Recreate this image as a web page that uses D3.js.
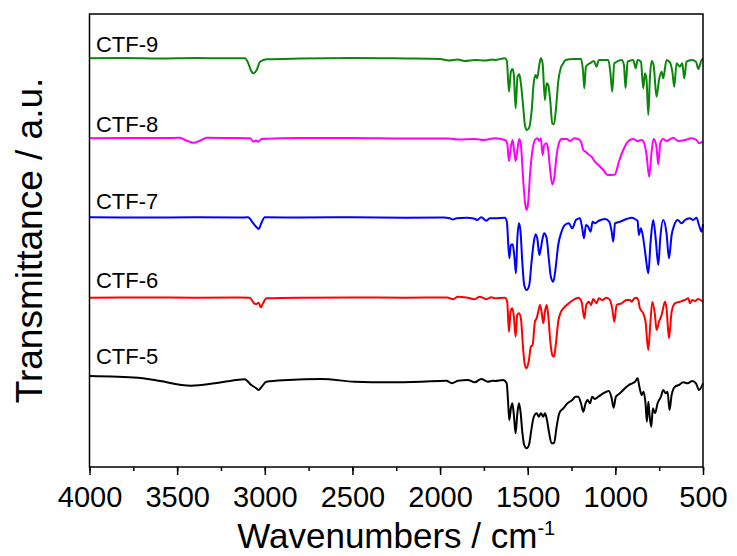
<!DOCTYPE html>
<html>
<head>
<meta charset="utf-8">
<style>
  body { margin: 0; background: #fff; }
  svg { display: block; font-family: "Liberation Sans", Arial, sans-serif; }
  .frame { fill: none; stroke: #000; stroke-width: 1.5px; }
  .spectrum { fill: none; stroke-width: 2px; stroke-linejoin: round; }
  .axis path { display: none; }
  .axis line { stroke: #000; stroke-width: 1.5px; }
  .axis text { font-size: 29px; fill: #000; }
</style>
</head>
<body>
<svg width="737" height="556"></svg>

<script src="https://d3js.org/d3.v7.min.js"></script>
<script>

// sample names, top to bottom
var names = ["CTF-9", "CTF-8", "CTF-7", "CTF-6", "CTF-5"];
var colours = ["#0a870a", "#ff00ff", "#0000ff", "#ff0000", "#000000"];

// label height of each name (same a.u. as the spectra)
var labelY = [415, 335, 258, 179, 103];

// spectra: [wavenumber, transmittance (a.u., stacked)]
var ctf9 = [
  [4000,408.7],[3800,409],[3600,408.5],[3400,409],[3200,408.7],[3113,408.7],[3094,403.7],[3080,397],
  [3065,393.7],[3046,397],[3027,405.3],[2989,407.7],[2800,408.5],[2500,409],[2200,408.5],[2000,408],
  [1950,406.5],[1900,407.5],[1860,406],[1800,407],[1740,406.5],[1700,407.5],
  [1687,407],[1630,408.7],[1619,406],[1607,375.3],[1596,395.3],[1586,398],[1579,392],[1569,358.7],
  [1558,390.3],[1548,392.7],[1539,383.7],[1525,358.7],[1516,342],[1506,337],[1493,338.7],[1478,355.3],
  [1465,385.3],[1455,392],[1446,388.7],[1434,402],[1425,408.7],[1415,403.7],[1402,367],[1392,383.7],
  [1383,382],[1371,365.3],[1360,343.7],[1350,342.7],[1337,362],[1326,385.3],[1312,398.7],[1297,403.7],
  [1284,407],[1240,408],[1196,408],[1185,397],[1177,378.7],[1168,400.3],[1145,403.7],[1122,406],
  [1107,400.3],[1094,407],[1040,407],[1029,395.3],[1018,375.3],[1006,403.7],[964,407],[951,402],
  [942,378.7],[930,405.3],[898,407],[884,398.7],[873,407],[854,405.3],[841,378.7],[831,393.7],
  [822,387],[812,352],[803,388.7],[793,406],[782,402],[765,370.3],[751,387],[736,395.3],[727,388.7],
  [708,407],[689,404.7],[675,395.3],[664,380.3],[651,403.7],[632,400.3],[618,403.7],[607,388.7],
  [594,405.3],[565,407],[540,405.3],[527,398],[508,407],[500,408]
];

var ctf8 = [
  [4000,328.7],[3700,329],[3520,329],[3484,329.3],[3446,326.3],[3408,324.3],[3370,326.3],[3331,329.3],
  [3200,329],[3084,328.7],[3065,325.3],[3050,326.5],[3037,325.3],[3018,328],[2800,329],[2500,329],
  [2200,328.5],[1950,328.5],[1900,327.5],[1800,328],[1750,327],[1700,328.5],
  [1687,328.7],[1630,327],[1617,323.7],[1607,306],[1596,320.3],[1586,327],[1577,315.3],[1569,306],
  [1558,318.7],[1548,328],[1539,322],[1525,285.3],[1516,265.3],[1506,257],[1497,265.3],[1487,292],
  [1474,315.3],[1459,327],[1444,328.7],[1434,326],[1425,328.7],[1415,312],[1406,322],[1392,323.7],
  [1383,317],[1371,295.3],[1360,282.7],[1349,288.7],[1335,312],[1322,323.7],[1307,328],[1278,328],
  [1259,326],[1234,328.7],[1212,328],[1196,325.3],[1183,317],[1170,315.3],[1155,312.7],[1136,310.3],
  [1117,305.3],[1097,302],[1069,297],[1044,292],[1021,292],[1002,292.7],[980,305.3],[955,317],
  [926,326],[898,328],[873,326],[850,327],[835,323.7],[822,312],[807,290.3],[793,315.3],[782,328],
  [767,322],[755,302.7],[744,323.7],[727,328],[708,326],[670,329.3],[641,326],[603,327],[565,328.7],
  [537,327],[523,323.7],[500,325.3]
];

var ctf7 = [
  [4000,249.7],[3700,249.5],[3400,249.7],[3150,249.5],[3096,249.7],[3067,244],[3048,240],[3035,238],
  [3020,243.7],[3000,249.7],[2800,249.5],[2500,249.7],[2200,249.3],[1980,249.5],[1945,248.7],[1926,247.5],
  [1907,248.7],[1850,249.3],[1802,248.3],[1788,247],[1765,249.7],[1736,246.3],[1717,248.7],
  [1687,248.7],[1630,249.3],[1619,245.3],[1605,208.7],[1596,222],[1586,222.7],[1577,212],[1567,193.7],
  [1560,225.3],[1550,243.7],[1541,235.3],[1531,205.3],[1520,182],[1506,177],[1491,182],[1478,205.3],
  [1465,225.3],[1455,232.7],[1444,227],[1434,212],[1425,218.7],[1415,228.7],[1406,233.7],[1392,228.7],
  [1379,207],[1368,190.3],[1354,185.3],[1341,198.7],[1326,222],[1307,235.3],[1288,242],[1265,243.7],
  [1246,238.7],[1225,247],[1202,248.7],[1189,238.7],[1179,228.7],[1168,242],[1155,240.3],[1141,235.3],
  [1130,245.3],[1117,243.7],[1097,246],[1059,248],[1035,245.3],[1021,235.3],[1012,225.3],[1002,243.7],
  [974,245.3],[936,248],[907,249.3],[888,248],[873,246],[866,232],[854,238.7],[841,228.7],[828,212],
  [812,193.7],[799,225.3],[784,247],[770,228.7],[755,202],[744,228.7],[727,247],[708,233.7],[694,208.7],
  [679,232],[664,242],[645,247],[622,243.7],[603,247],[575,248.7],[556,247],[537,249.3],[523,242],
  [508,235.3],[500,243]
];

var ctf6 = [
  [4000,169.3],[3700,169.5],[3400,169.3],[3150,169.5],[3086,169.3],[3061,163.7],[3048,163],[3035,164.3],
  [3023,159.7],[3010,163.7],[2991,168.7],[2800,169.3],[2500,169.5],[2200,169.3],[1960,169.5],[1926,167.8],
  [1898,170.3],[1850,169.5],[1802,167.8],[1774,170.3],[1736,167.8],[1708,169.7],
  [1687,168.7],[1630,169.3],[1617,165.3],[1607,135.3],[1598,155.3],[1588,158.7],[1579,150.3],[1569,130.3],
  [1560,152],[1550,153.7],[1539,148.7],[1525,115.3],[1516,102],[1506,98.7],[1493,107],[1482,120.3],
  [1472,122],[1459,145.3],[1449,148.7],[1440,155.3],[1430,162],[1421,155.3],[1411,143.7],[1402,155.3],
  [1392,162],[1383,152],[1371,125.3],[1360,112],[1350,110.3],[1339,123.7],[1326,145.3],[1310,155.3],
  [1288,160.3],[1265,163.7],[1240,167],[1212,169.3],[1193,165.3],[1177,148.7],[1166,162],[1151,165.3],
  [1139,162],[1126,168],[1107,163.7],[1094,168.7],[1075,167],[1050,169.3],[1031,167],[1018,158.7],
  [1006,145.3],[993,162],[964,163.7],[936,167],[917,167],[907,165.3],[892,168.7],[879,169.3],[869,167],
  [860,158.7],[841,153.7],[828,145.3],[812,117],[801,142],[789,165.3],[774,152],[765,137],[751,145.3],
  [736,152],[717,165.3],[708,158.7],[694,128.7],[679,155.3],[660,163.7],[632,165.3],[603,167],[584,168.7],
  [575,163.7],[561,167],[546,166],[527,168],[500,165.3]
];

var ctf5 = [
  [4000,91],[3723,89.3],[3628,87],[3419,81.3],[3286,83.7],[3162,87],[3115,87.7],[3077,82],[3048,78.7],
  [3035,77],[3020,79.7],[2991,85.3],[2868,87],[2678,88],[2487,85.3],[2297,84.7],[2107,85.3],[1964,86.3],
  [1932,83.7],[1898,86.3],[1841,87],[1802,84.7],[1765,88],[1727,85.3],[1700,86.3],
  [1687,86],[1640,87],[1620,83.7],[1611,62],[1605,47],[1596,58.7],[1588,63.7],[1579,52],[1569,33.7],
  [1560,52],[1550,63.7],[1541,55.3],[1531,35.3],[1520,22],[1506,18.7],[1493,22],[1478,38.7],[1465,50.3],
  [1449,53.7],[1436,50.3],[1425,53.7],[1411,50.3],[1402,53.7],[1392,48.7],[1379,35.3],[1364,23.7],
  [1350,23.7],[1335,40.3],[1320,53.7],[1297,58.7],[1273,63.7],[1246,67],[1227,70.3],[1212,70.3],
  [1196,63.7],[1183,55.3],[1170,63.7],[1158,67],[1145,63.7],[1132,70.3],[1117,68],[1097,70.3],
  [1069,73.7],[1037,76],[1021,68.7],[1010,59.3],[997,70.3],[974,73.7],[945,78.7],[923,82],[903,83.7],
  [888,85.3],[873,88.7],[864,81.3],[850,72],[839,75.3],[828,63.7],[820,45.3],[812,65.3],[805,52],
  [795,40.3],[786,58.7],[774,53.7],[759,63.7],[740,70.3],[727,77],[713,73.7],[702,75.3],[691,57],
  [679,72],[660,80.3],[637,82],[613,84.7],[588,83.7],[561,86],[540,83.7],[523,77],[500,83.7]
];

var spectra = [ctf9, ctf8, ctf7, ctf6, ctf5];

// axis ticks
var minorTicks = d3.range(4000, 499, -250);
var majorTicks = [4000, 3500, 3000, 2500, 2000, 1500, 1000, 500];

var svg = d3.select("svg");
var margin = {left: 89.5, right: 34, top: 14, bottom: 89};
var width = +svg.attr("width"), height = +svg.attr("height");

var x = d3.scaleLinear().domain([4000, 500]).range([margin.left, width - margin.right]);
var y = d3.scaleLinear().domain([0, 453]).range([height - margin.bottom, margin.top]);

var line = d3.line()
    .x(function(d) { return x(d[0]); })
    .y(function(d) { return y(d[1]); })
    .curve(d3.curveMonotoneX);

// spectra
svg.append("g").selectAll("path")
    .data(spectra)
    .enter().append("path")
    .attr("class", "spectrum")
    .attr("d", line)
    .style("stroke", function(d, i) { return colours[i]; });

// sample names
svg.append("g").selectAll("text")
    .data(names)
    .enter().append("text")
    .attr("x", x(3963))
    .attr("y", function(d, i) { return y(labelY[i]); })
    .style("font-size", "22px")
    .text(function(d) { return d; });

// frame
svg.append("rect")
    .attr("class", "frame")
    .attr("x", x(4000))
    .attr("y", y(453))
    .attr("width", x(500) - x(4000))
    .attr("height", y(0) - y(453));

// minor ticks, no labels
svg.append("g")
    .attr("class", "axis")
    .attr("transform", "translate(0," + y(0) + ")")
    .call(d3.axisBottom(x).tickValues(minorTicks).tickSize(4).tickFormat(""));

// major ticks
svg.append("g")
    .attr("class", "axis")
    .attr("transform", "translate(0," + y(0) + ")")
    .call(d3.axisBottom(x).tickValues(majorTicks).tickSize(8).tickPadding(11).tickFormat(d3.format("d")));

// axis titles
var xt = svg.append("text")
    .attr("x", (x(4000) + x(500)) / 2)
    .attr("y", 548)
    .attr("text-anchor", "middle")
    .style("font-size", "35px");
xt.append("tspan").text("Wavenumbers / cm");
xt.append("tspan").attr("dy", -13).style("font-size", "20px").text("-1");

svg.append("text")
    .attr("transform", "translate(42," + ((y(0) + y(453)) / 2) + ") rotate(-90)")
    .attr("text-anchor", "middle")
    .style("font-size", "37px")
    .text("Transmittance / a.u.");

</script>
</body>
</html>
